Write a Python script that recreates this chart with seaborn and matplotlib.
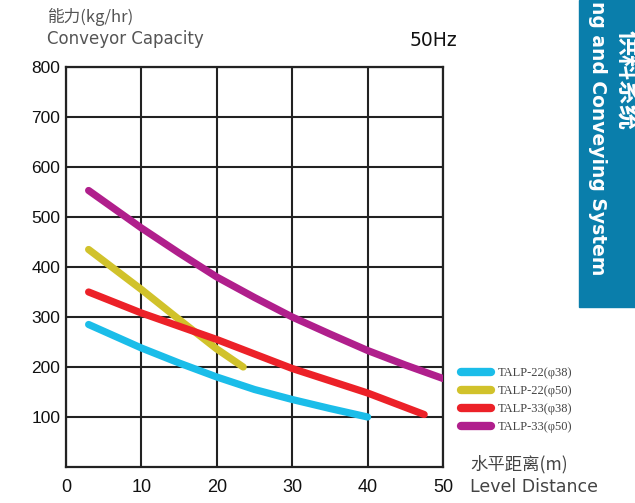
import matplotlib
matplotlib.use("Agg")
import matplotlib.pyplot as plt
from matplotlib.patches import Rectangle
import seaborn as sns
import pandas as pd

# 读图得到的数据
dist_22_38 = [3, 10, 15, 20, 25, 30, 35, 40]
cap_22_38 = [285, 238, 208, 180, 155, 135, 117, 100]
dist_22_50 = [3, 10, 15, 20, 23.5]
cap_22_50 = [435, 355, 295, 236, 200]
dist_33_38 = [3, 10, 20, 30, 40, 47.5]
cap_33_38 = [350, 308, 255, 197, 148, 105]
dist_33_50 = [3, 10, 15, 20, 25, 30, 35, 40, 45, 50]
cap_33_50 = [553, 478, 428, 380, 339, 300, 266, 233, 204, 177]

names = ["TALP-22(\u03c638)", "TALP-22(\u03c650)", "TALP-33(\u03c638)", "TALP-33(\u03c650)"]
colors = ["#1bbde9", "#d1c22b", "#ec2128", "#b01f8c"]

x_ticks = [0, 10, 20, 30, 40, 50]
y_ticks = [100, 200, 300, 400, 500, 600, 700, 800]

frames = []
for n, d, c in zip(names, [dist_22_38, dist_22_50, dist_33_38, dist_33_50],
                   [cap_22_38, cap_22_50, cap_33_38, cap_33_50]):
    frames.append(pd.DataFrame({"dist": d, "cap": c, "model": n}))
df = pd.concat(frames, ignore_index=True)

sns.set_style("white")
plt.rcParams["font.family"] = ["DejaVu Sans", "Noto Sans CJK SC"]

fig = plt.figure(figsize=(6.35, 5.03), dpi=100)
ax = fig.add_axes([66 / 635, 1 - 467 / 503, (443 - 66) / 635, (467 - 67) / 503])

sns.lineplot(data=df, x="dist", y="cap", hue="model", palette=colors,
             linewidth=5.2, ax=ax, legend=False, sort=False)
for ln in ax.lines:
    ln.set_solid_capstyle("round")
    ln.set_solid_joinstyle("round")
    ln.set_zorder(3)

ax.set_xlim(0, 50)
ax.set_ylim(0, 800)
ax.set_xticks(x_ticks)
ax.set_yticks(y_ticks)
ax.set_xticklabels([str(v) for v in x_ticks], family="Liberation Sans", fontsize=13)
ax.set_yticklabels([str(v) for v in y_ticks], family="Liberation Sans", fontsize=12.5)
ax.tick_params(length=0, pad=4, colors="#111111")
ax.tick_params(axis="x", pad=9)
ax.grid(True, color="#222222", linewidth=1.5)
ax.set_axisbelow(True)
for s in ax.spines.values():
    s.set_color("#222222")
    s.set_linewidth(1.6)
ax.set_xlabel("")
ax.set_ylabel("")

# 图例
handles = [plt.Line2D([], [], color=c, linewidth=6, solid_capstyle="round") for c in colors]
fig.legend(handles, names, loc="upper left", bbox_to_anchor=(450 / 635, 1 - 356 / 503),
           frameon=False, handlelength=2.4, handletextpad=0.5, labelspacing=0.48,
           prop={"family": "Liberation Serif", "size": 9}, labelcolor="#444444")

# 文字
fig.text(47 / 635, 1 - 17 / 503, "能力(kg/hr)", family=["Noto Sans CJK SC", "DejaVu Sans"],
         fontsize=12, color="#555555", va="center")
fig.text(47 / 635, 1 - 39 / 503, "Conveyor Capacity", fontsize=12, color="#555555", va="center")
fig.text(410 / 635, 1 - 40 / 503, "50Hz", fontsize=13.5, color="#111111", va="center")
fig.text(470 / 635, 1 - 464 / 503, "水平距离(m)", family=["Noto Sans CJK SC", "DejaVu Sans"],
         fontsize=12.5, color="#444444", va="center")
fig.text(470 / 635, 1 - 487 / 503, "Level Distance", fontsize=12.5, color="#444444", va="center")

# 右侧色条
fig.patches.append(Rectangle((579 / 635, 1 - 307 / 503), 60 / 635, 307 / 503,
                             transform=fig.transFigure, color="#0a7eab", zorder=0))
fig.text(598 / 635, 1 - 275 / 503, "ng and Conveying System", rotation=-90,
         color="white", fontweight="bold", fontsize=13.5, ha="center", va="bottom")
fig.text(626 / 635, 1 - 130 / 503, "供料系统", rotation=-90, color="white",
         family=["Noto Sans CJK SC"], fontweight="bold", fontsize=18, ha="center", va="bottom")

fig.savefig("out.png", dpi=100)
